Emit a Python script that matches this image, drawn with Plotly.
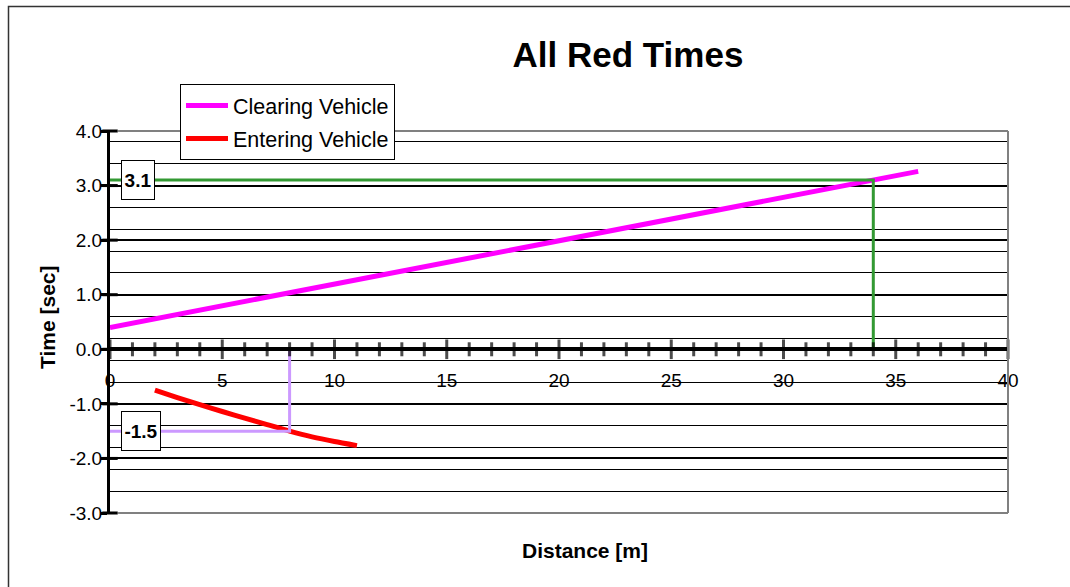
import plotly.graph_objects as go

# ---- data ----
clearing_x = [0, 5, 10, 15, 20, 25, 30, 34, 36]
clearing_y = [0.40, 0.80, 1.19, 1.59, 1.98, 2.38, 2.78, 3.10, 3.26]

entering_x = [2, 3, 4, 5, 6, 7, 8, 9, 10, 11]
entering_y = [-0.75, -0.885, -1.015, -1.14, -1.26, -1.38, -1.50, -1.605, -1.69, -1.765]

clear_dist = 34
clear_time = 3.1
enter_dist = 8
enter_time = -1.5

x_ticks = list(range(0, 41, 5))
x_minor = list(range(0, 41, 1))
y_ticks = [-3, -2, -1, 0, 1, 2, 3, 4]

FONT = "Arial, Liberation Sans, sans-serif"

fig = go.Figure()

fig.add_trace(go.Scatter(
    x=clearing_x, y=clearing_y, mode="lines", name="Clearing Vehicle",
    line=dict(color="#FF00FF", width=5), legendgroup="a"))
fig.add_trace(go.Scatter(
    x=entering_x, y=entering_y, mode="lines", name="Entering Vehicle",
    line=dict(color="#FF0000", width=5, shape="spline", smoothing=0.6), legendgroup="b"))

# guide lines
fig.add_trace(go.Scatter(
    x=[0, clear_dist, clear_dist], y=[clear_time, clear_time, 0], mode="lines",
    line=dict(color="#339933", width=3), showlegend=False, hoverinfo="skip",
    cliponaxis=False))
fig.add_trace(go.Scatter(
    x=[0, enter_dist, enter_dist], y=[enter_time, enter_time, 0], mode="lines",
    line=dict(color="#CC99FF", width=3), showlegend=False, hoverinfo="skip",
    cliponaxis=False))

# crossing tick marks on the x axis (at y = 0)
fig.add_trace(go.Scatter(
    x=x_minor, y=[0] * len(x_minor), mode="markers",
    marker=dict(symbol="line-ns-open", color="black",
                size=[14 if v % 5 == 0 else 10 for v in x_minor],
                line=dict(color="black", width=3)),
    showlegend=False, hoverinfo="skip", cliponaxis=False))
# inner half of the crossing tick marks on the y axis
fig.add_trace(go.Scatter(
    x=[0] * len(y_ticks), y=y_ticks, mode="markers",
    marker=dict(symbol="line-ew-open", color="black", size=11,
                line=dict(color="black", width=3)),
    showlegend=False, hoverinfo="skip", cliponaxis=False))

GRAY = "#808080"
fig.update_layout(
    width=1070, height=587,
    margin=dict(l=110, r=62, t=131, b=74),
    paper_bgcolor="white", plot_bgcolor="white",
    font=dict(family=FONT, color="black"),
    title=dict(text="<b>All Red Times</b>", font=dict(size=35, family=FONT, color="black"),
               x=628 / 1070, xanchor="center", xref="container",
               y=1 - 55 / 587, yanchor="middle", yref="container"),
    showlegend=True,
    legend=dict(x=(180 - 110) / 898, y=(513 - 84) / 382, xanchor="left", yanchor="top",
                bgcolor="white", bordercolor="black", borderwidth=1,
                font=dict(size=21.5, family=FONT, color="black"),
                tracegroupgap=2, traceorder="grouped", itemwidth=42),
    xaxis=dict(range=[0, 40], anchor="free", position=3 / 7,
               showline=True, linecolor="black", linewidth=4,
               ticks="", tickvals=x_ticks, ticktext=[str(v) for v in x_ticks],
               tickfont=dict(size=19, family=FONT, color="black"),
               ticklabelstandoff=13,
               showgrid=False, zeroline=False),
    yaxis=dict(range=[-3, 4], tickvals=y_ticks, ticktext=[f"{v:.1f}" for v in y_ticks],
               showline=True, linecolor="black", linewidth=3,
               ticks="outside", ticklen=6, tickwidth=3, tickcolor="black",
               ticklabelstandoff=-5,
               tickfont=dict(size=19, family=FONT, color="black"),
               showgrid=True, gridcolor="black", gridwidth=2, zeroline=False,
               minor=dict(tick0=-3, dtick=0.4, showgrid=True, gridcolor="black", gridwidth=1)),
    shapes=[
        # plot-area frame: top, right, bottom
        dict(type="line", xref="x domain", yref="y domain", x0=0.009, x1=1, y0=1, y1=1,
             line=dict(color=GRAY, width=2), layer="above"),
        dict(type="line", xref="x domain", yref="y domain", x0=1, x1=1, y0=0, y1=1,
             line=dict(color=GRAY, width=2), layer="above"),
        dict(type="line", xref="x domain", yref="y domain", x0=0.009, x1=1, y0=0, y1=0,
             line=dict(color=GRAY, width=2), layer="above"),
        # outer chart border
        dict(type="rect", xref="paper", yref="paper",
             x0=(8.5 - 110) / 898, x1=(1085 - 110) / 898,
             y0=(513 - 600) / 382, y1=(513 - 6.5) / 382,
             line=dict(color="#333333", width=1.5), layer="below"),
    ],
    annotations=[
        dict(text="<b>Time [sec]</b>", xref="paper", yref="paper",
             x=(47 - 110) / 898, y=(513 - 317) / 382, textangle=-90,
             xanchor="center", yanchor="middle",
             showarrow=False, font=dict(size=21, family=FONT, color="black")),
        dict(text="<b>Distance [m]</b>", xref="paper", yref="paper",
             x=(585 - 110) / 898, y=(513 - 550) / 382,
             xanchor="center", yanchor="middle",
             showarrow=False, font=dict(size=21, family=FONT, color="black")),
        dict(text=f"<b>{clear_time:.1f}</b>", x=0, y=clear_time, xref="x", yref="y",
             xanchor="left", yanchor="middle", xshift=11, showarrow=False,
             font=dict(size=19, family=FONT, color="black"),
             bgcolor="white", bordercolor="black", borderwidth=1, borderpad=2,
             width=28, height=34),
        dict(text=f"<b>{enter_time:.1f}</b>", x=0, y=enter_time, xref="x", yref="y",
             xanchor="left", yanchor="middle", xshift=11, showarrow=False,
             font=dict(size=19, family=FONT, color="black"),
             bgcolor="white", bordercolor="black", borderwidth=1, borderpad=2,
             width=34, height=34),
    ],
)

fig.write_html("out.html", config={"displayModeBar": False},
               post_script="document.body.style.margin='0px';")
